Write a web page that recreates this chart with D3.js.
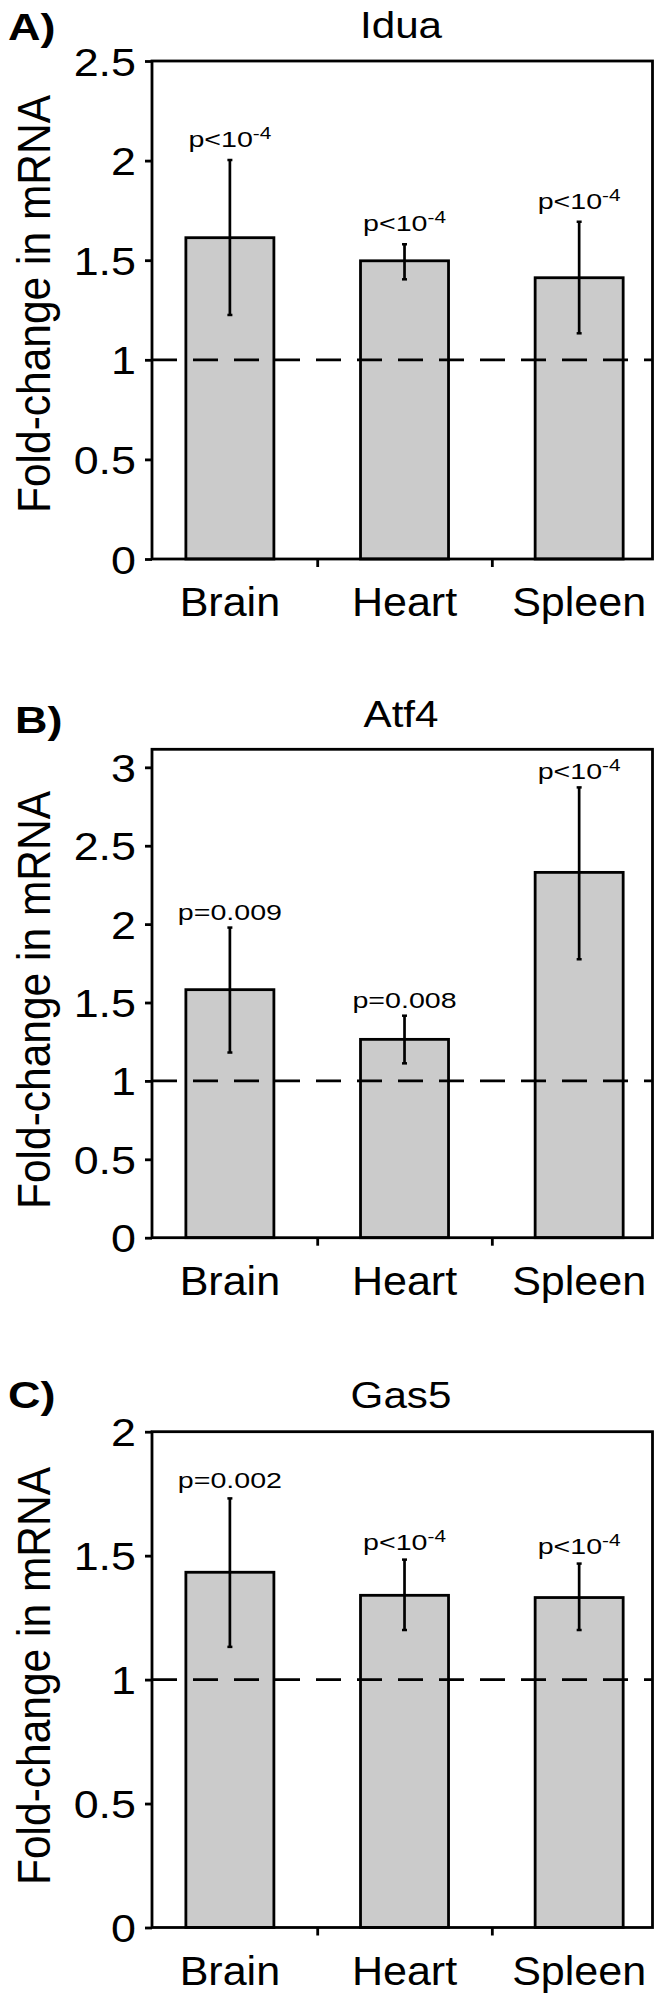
<!DOCTYPE html>
<html><head><meta charset="utf-8">
<script src="https://cdn.jsdelivr.net/npm/d3@7"></script>
<style>
body{margin:0;background:#fff}
svg{display:block}
text{font-family:"Liberation Sans",Arial,Helvetica,sans-serif;fill:#000}
</style>
</head><body>
<svg id="c" width="665" height="2002"></svg>
<script>
// ---------- data ----------
const categories = ["Brain", "Heart", "Spleen"];
const panelLetters = ["A)", "B)", "C)"];
const geneTitles = ["Idua", "Atf4", "Gas5"];
const yAxisTitle = "Fold-change in mRNA";
const referenceLevel = 1;

const iduaMean = [1.613, 1.497, 1.412];
const iduaLow  = [1.225, 1.404, 1.133];
const iduaHigh = [2.003, 1.580, 1.693];
const iduaP    = ["p<10^-4", "p<10^-4", "p<10^-4"];
const iduaTicks = [0, 0.5, 1, 1.5, 2, 2.5];
const iduaMax = 2.5;

const atf4Mean = [1.582, 1.265, 2.330];
const atf4Low  = [1.181, 1.112, 1.776];
const atf4High = [1.978, 1.416, 2.872];
const atf4P    = ["p=0.009", "p=0.008", "p<10^-4"];
const atf4Ticks = [0, 0.5, 1, 1.5, 2, 2.5, 3];
const atf4Max = 3.115;

const gas5Mean = [1.433, 1.340, 1.331];
const gas5Low  = [1.132, 1.200, 1.200];
const gas5High = [1.731, 1.484, 1.468];
const gas5P    = ["p=0.002", "p<10^-4", "p<10^-4"];
const gas5Ticks = [0, 0.5, 1, 1.5, 2];
const gas5Max = 2;

// ---------- layout / style ----------
const panels = [
  {mean: iduaMean, low: iduaLow, high: iduaHigh, p: iduaP, ticks: iduaTicks, max: iduaMax,
   top: 61, bottom: 559, letterX: 8, letterY: 40, titleY: 38, yTitleY: 304, pGap: 13},
  {mean: atf4Mean, low: atf4Low, high: atf4High, p: atf4P, ticks: atf4Ticks, max: atf4Max,
   top: 749.3, bottom: 1237.7, letterX: 15, letterY: 733, titleY: 726.5, yTitleY: 1000, pGap: 8},
  {mean: gas5Mean, low: gas5Low, high: gas5High, p: gas5P, ticks: gas5Ticks, max: gas5Max,
   top: 1431.7, bottom: 1927.5, letterX: 8, letterY: 1408, titleY: 1408, yTitleY: 1676, pGap: 10}
];
const left = 152, right = 652.5;
const barFill = "#cbcbcb";
const lw = 2.8;

const svg = d3.select("#c");
const x = d3.scaleLinear().domain([-0.446, 2.42]).range([left, right]);
const barHalf = (x(1) - x(0)) * 0.252;

panels.forEach((P, pi) => {
  const g = svg.append("g");
  const y = d3.scaleLinear().domain([0, P.max]).range([P.bottom, P.top]);

  // panel letter
  g.append("text")
    .attr("transform", `translate(${P.letterX},${P.letterY}) scale(1.25,1)`)
    .attr("font-size", 36).attr("font-weight", "bold")
    .text(panelLetters[pi]);

  // title
  g.append("text")
    .attr("transform", `translate(401,${P.titleY}) scale(1.14,1)`)
    .attr("text-anchor", "middle").attr("font-size", 37)
    .text(geneTitles[pi]);

  // y axis title
  g.append("text")
    .attr("transform", `translate(50,${P.yTitleY}) scale(1.095,1) rotate(-90)`)
    .attr("text-anchor", "middle").attr("font-size", 42.5)
    .text(yAxisTitle);

  // bars
  g.selectAll("rect.bar").data(P.mean).join("rect")
    .attr("class", "bar")
    .attr("x", (d, i) => x(i) - barHalf)
    .attr("width", barHalf * 2)
    .attr("y", d => y(d))
    .attr("height", d => y(0) - y(d))
    .attr("fill", barFill).attr("stroke", "#000").attr("stroke-width", lw);

  // reference dashed line
  g.append("line")
    .attr("x1", left).attr("x2", right)
    .attr("y1", y(referenceLevel)).attr("y2", y(referenceLevel))
    .attr("stroke", "#000").attr("stroke-width", lw)
    .attr("stroke-dasharray", "25,16");

  // error bars
  P.mean.forEach((m, i) => {
    const cx = x(i);
    g.append("line").attr("x1", cx).attr("x2", cx)
      .attr("y1", y(P.low[i])).attr("y2", y(P.high[i]))
      .attr("stroke", "#000").attr("stroke-width", 2.7);
    [P.low[i], P.high[i]].forEach(v => {
      g.append("line").attr("x1", cx - 2.5).attr("x2", cx + 2.5)
        .attr("y1", y(v)).attr("y2", y(v))
        .attr("stroke", "#000").attr("stroke-width", 2.5);
    });
    // p label
    const parts = P.p[i].split("^");
    const t = g.append("text")
      .attr("transform", `translate(${cx},${y(P.high[i]) - P.pGap}) scale(1.3,1)`)
      .attr("text-anchor", "middle").attr("font-size", 22);
    t.append("tspan").text(parts[0]);
    if (parts[1]) t.append("tspan").attr("dy", -8).attr("font-size", 16).text(parts[1]);
  });

  // y axis
  const ya = g.append("g").attr("transform", `translate(${left},0)`)
    .call(d3.axisLeft(y).tickValues(P.ticks).tickSize(7).tickFormat(d3.format("")));
  ya.select(".domain").remove();
  ya.selectAll(".tick line").attr("stroke", "#000").attr("stroke-width", lw);
  ya.selectAll(".tick text")
    .attr("x", null).attr("dy", null)
    .attr("transform", "translate(-16,14) scale(1.15,1)")
    .attr("text-anchor", "end")
    .attr("font-size", 39).attr("font-family", null).attr("fill", "#000");

  // x axis ticks (separators)
  const xa = g.append("g").attr("transform", `translate(0,${P.bottom})`)
    .call(d3.axisBottom(x).tickValues([0.5, 1.5]).tickSize(8).tickFormat(""));
  xa.select(".domain").remove();
  xa.selectAll(".tick line").attr("stroke", "#000").attr("stroke-width", lw);

  // category labels
  g.selectAll("text.cat").data(categories).join("text")
    .attr("class", "cat")
    .attr("transform", (d, i) => `translate(${x(i)},${P.bottom + 57}) scale(1.05,1)`)
    .attr("text-anchor", "middle").attr("font-size", 41)
    .text(d => d);

  // frame
  g.append("rect")
    .attr("x", left).attr("y", P.top)
    .attr("width", right - left).attr("height", P.bottom - P.top)
    .attr("fill", "none").attr("stroke", "#000").attr("stroke-width", lw);
});
</script>
</body></html>
